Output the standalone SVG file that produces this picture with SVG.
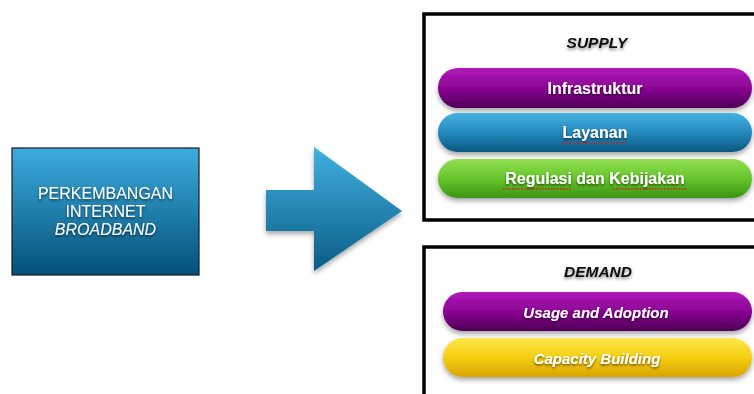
<svg xmlns="http://www.w3.org/2000/svg" width="754" height="394" viewBox="0 0 754 394">
<defs>
<linearGradient id="gBlueBox" x1="0" y1="0" x2="0" y2="1">
<stop offset="0" stop-color="#3cacde"/><stop offset="1" stop-color="#045179"/>
</linearGradient>
<linearGradient id="gArrow" x1="0" y1="0" x2="0" y2="1">
<stop offset="0" stop-color="#41b0e0"/><stop offset="1" stop-color="#0b5c86"/>
</linearGradient>
<linearGradient id="gPurple" x1="0" y1="0" x2="0" y2="1">
<stop offset="0" stop-color="#b118bb"/><stop offset="0.5" stop-color="#8a0592"/><stop offset="1" stop-color="#4e0056"/>
</linearGradient>
<linearGradient id="gBlue" x1="0" y1="0" x2="0" y2="1">
<stop offset="0" stop-color="#46b2e2"/><stop offset="0.5" stop-color="#2489bd"/><stop offset="1" stop-color="#0a587f"/>
</linearGradient>
<linearGradient id="gGreen" x1="0" y1="0" x2="0" y2="1">
<stop offset="0" stop-color="#92e052"/><stop offset="0.5" stop-color="#66c52a"/><stop offset="1" stop-color="#3a9412"/>
</linearGradient>
<linearGradient id="gYellow" x1="0" y1="0" x2="0" y2="1">
<stop offset="0" stop-color="#fde84a"/><stop offset="0.5" stop-color="#f5cf12"/><stop offset="1" stop-color="#d9a300"/>
</linearGradient>
<filter id="shadow" x="-10%" y="-30%" width="120%" height="170%">
<feDropShadow dx="0" dy="3" stdDeviation="2.5" flood-color="#000" flood-opacity="0.35"/>
</filter>
<filter id="tshadow" x="-10%" y="-40%" width="120%" height="190%">
<feDropShadow dx="0" dy="1.5" stdDeviation="1.2" flood-color="#000" flood-opacity="0.6"/>
</filter>
<filter id="hshadow" x="-10%" y="-40%" width="120%" height="190%">
<feDropShadow dx="0" dy="2" stdDeviation="1.5" flood-color="#000" flood-opacity="0.45"/>
</filter>
</defs>
<style>
.frame{fill:#fff;stroke:#000;stroke-width:3.5}
.pill{filter:url(#shadow)}
.pt{font-family:"Liberation Sans",Arial,sans-serif;font-weight:bold;fill:#fff;text-anchor:middle;filter:url(#tshadow)}
.hd{font-family:"Liberation Sans",Arial,sans-serif;font-weight:bold;font-style:italic;font-size:15.5px;fill:#111;text-anchor:middle;filter:url(#hshadow)}
.lt{font-family:"Liberation Sans",Arial,sans-serif;font-size:16px;fill:#fff;text-anchor:middle;filter:url(#tshadow)}
.sq{stroke:#d42020;stroke-width:1.3;stroke-dasharray:1.5 1.5;fill:none}
</style>
<rect width="754" height="394" fill="#fff"/>

<g id="node-broadband">
<rect x="12" y="148" width="187" height="127" fill="url(#gBlueBox)" stroke="#1a1a1a" stroke-width="1.2"/>
<text class="lt" x="105.5" y="199">PERKEMBANGAN</text>
<text class="lt" x="105.5" y="217">INTERNET</text>
<text class="lt" x="105.5" y="235" font-style="italic">BROADBAND</text>
</g>

<g id="connectors">
<path d="M266 190 H314 V147 L402 211 L314 271 V231 H266 Z" fill="url(#gArrow)" filter="url(#shadow)"/>
</g>

<g id="node-supply">
<rect class="frame" x="424" y="14" width="345" height="206"/>
<text class="hd" x="597" y="48">SUPPLY</text>
</g>
<g id="node-infrastruktur">
<rect class="pill" x="438" y="68" width="314" height="40" rx="20" fill="url(#gPurple)"/>
<text class="pt" x="595" y="94" font-size="16">Infrastruktur</text>
</g>
<g id="node-layanan">
<rect class="pill" x="438" y="113" width="314" height="39" rx="19.5" fill="url(#gBlue)"/>
<text class="pt" x="595" y="138" font-size="16">Layanan</text>
<path class="sq" d="M562 143 H627"/>
</g>
<g id="node-regulasi">
<rect class="pill" x="438" y="159" width="314" height="39" rx="19.5" fill="url(#gGreen)"/>
<text class="pt" x="595" y="184" font-size="16">Regulasi dan Kebijakan</text>
<path class="sq" d="M503 189 H571 M613 189 H687"/>
</g>

<g id="node-demand">
<rect class="frame" x="424" y="247" width="345" height="170"/>
<text class="hd" x="598" y="277">DEMAND</text>
</g>
<g id="node-usage">
<rect class="pill" x="443" y="292" width="309" height="39" rx="19.5" fill="url(#gPurple)"/>
<text class="pt" x="596" y="318" font-size="15" font-style="italic">Usage and Adoption</text>
</g>
<g id="node-capacity">
<rect class="pill" x="443" y="338" width="309" height="39" rx="19.5" fill="url(#gYellow)"/>
<text class="pt" x="597" y="364" font-size="15" font-style="italic">Capacity Building</text>
</g>
</svg>
